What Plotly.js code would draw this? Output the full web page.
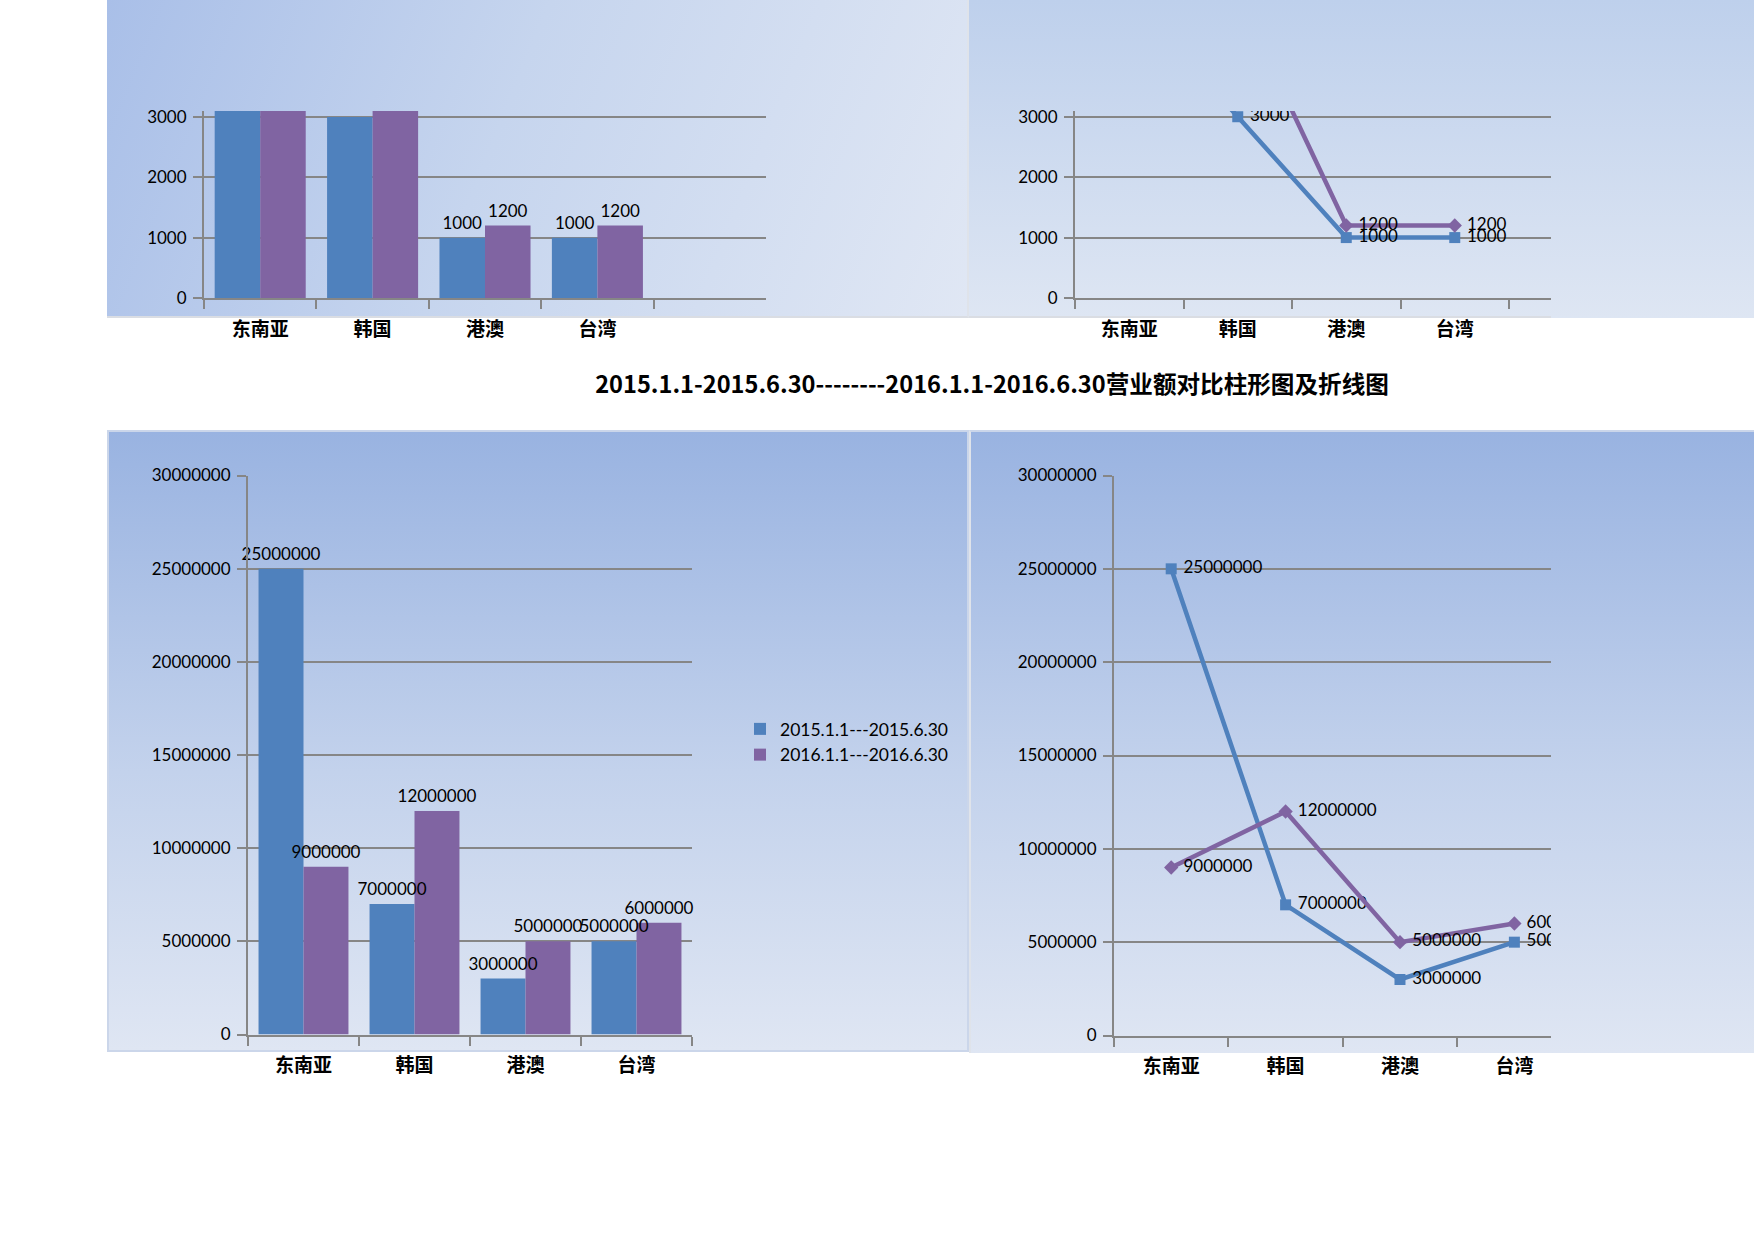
<!DOCTYPE html>
<html>
<head>
<meta charset="utf-8">
<script src="https://cdn.plot.ly/plotly-3.0.1.min.js"></script>
<style>
  body { margin: 0; background: #fff; }
  .panel { position: absolute; box-sizing: border-box; }
  #p1 { left: 107px; top: 0; width: 862px; height: 318px;
        background: linear-gradient(112deg, #a9bfe8 0%, #c6d5ee 45%, #e0e7f4 100%);
        border-bottom: 2px solid #dadde3; border-right: 2px solid #dfe3ea; }
  #p2 { left: 969px; top: 0; width: 785px; height: 318px;
        background: linear-gradient(180deg, #bed0ec 0%, #dee6f3 100%); }
  #p2line { left: 969px; top: 316px; width: 582px; height: 2px; background: #dadde3; }
  #p3 { left: 107px; top: 430px; width: 862px; height: 622px;
        background: linear-gradient(180deg, #99b3e1 0%, #c3d2ec 55%, #dfe6f3 100%);
        border: 2px solid #cbd6ea; }
  #p4 { left: 969px; top: 430px; width: 785px; height: 623px;
        background: linear-gradient(180deg, #99b3e1 0%, #c3d2ec 55%, #dfe6f3 100%);
        border-left: 2px solid #dfe3ea; border-top: 2px solid #cbd6ea; }
  #chart { position: absolute; left: 0; top: 0; width: 1754px; height: 1240px; }
</style>
</head>
<body>
<div class="panel" id="p1"></div>
<div class="panel" id="p2"></div>
<div class="panel" id="p2line"></div>
<div class="panel" id="p3"></div>
<div class="panel" id="p4"></div>
<div id="chart"></div>
<script>
// data
var regions = ['东南亚', '韩国', '港澳', '台湾'];
var periods = ['2015.1.1---2015.6.30', '2016.1.1---2016.6.30'];
// upper pair of charts (东南亚 values are cut off in the picture, estimated)
var topA = [5000, 3000, 1000, 1000];
var topB = [4000, 5000, 1200, 1200];
// revenue, lower pair of charts
var revA = [25000000, 7000000, 3000000, 5000000];
var revB = [9000000, 12000000, 5000000, 6000000];
var topTicks = [0, 1000, 2000, 3000];
var revTicks = [0, 5000000, 10000000, 15000000, 20000000, 25000000, 30000000];
var titleText = '2015.1.1-2015.6.30--------2016.1.1-2016.6.30营业额对比柱形图及折线图';

var W = 1754, H = 1240;
var BLUE = '#4f81bd', PURPLE = '#8064a2', GREY = '#868686';
var numFont = {family: 'Lato, Carlito, sans-serif', size: 17, color: '#000'};
var catFont = {family: '"Noto Sans CJK SC", sans-serif', size: 19, color: '#000', weight: 'bold'};

function fx(a, b){ return [a / W, b / W]; }
function fy(top, bottom){ return [1 - bottom / H, 1 - top / H]; }

// labels only for values whose label still lies inside the cut-off chart
function labels(vals, limit, pre){
    return vals.map(function(v){
        return (limit === undefined || v < limit) ? (pre || '') + String(v) : '';
    });
}

function catAxis(dom, range, anchor){
    return {
        domain: dom, range: range, anchor: anchor, type: 'category', categoryorder: 'array', categoryarray: regions,
        showline: true, linecolor: GREY, linewidth: 2, showgrid: false, zeroline: false,
        ticks: 'outside', tickson: 'boundaries', ticklen: 9, tickwidth: 2, tickcolor: GREY,
        tickfont: catFont, ticklabelstandoff: 13, fixedrange: true
    };
}
function valAxis(dom, range, vals, anchor){
    return {
        domain: dom, range: range, anchor: anchor, tickvals: vals, tickformat: 'd',
        showline: true, linecolor: GREY, linewidth: 2,
        showgrid: true, gridcolor: GREY, gridwidth: 2, zeroline: false,
        ticks: 'outside', ticklen: 9, tickwidth: 2, tickcolor: GREY,
        tickfont: numFont, ticklabelstandoff: 3, fixedrange: true
    };
}

function barTrace(vals, name, color, grp, xa, ya, legend){
    return {
        type: 'bar', x: regions, y: vals, name: name, xaxis: xa, yaxis: ya,
        offsetgroup: grp, marker: {color: color}, showlegend: legend
    };
}
// bar value labels as a separate text layer so they sit above every bar
function barLabels(vals, grp, xa, ya, limit){
    return {
        type: 'scatter', mode: 'markers+text', x: regions, y: vals, xaxis: xa, yaxis: ya,
        offsetgroup: grp, text: labels(vals, limit), textposition: 'top center',
        marker: {size: 6, opacity: 0},
        textfont: numFont, cliponaxis: false, showlegend: false, hoverinfo: 'skip'
    };
}
function lineTrace(vals, name, color, symbol, xa, ya, limit){
    return {
        type: 'scatter', mode: 'lines+markers+text', x: regions, y: vals, name: name,
        xaxis: xa, yaxis: ya, offsetgroup: 'line', line: {color: color, width: 4.5},
        marker: {color: color, symbol: symbol, size: 11},
        text: labels(vals, limit, '\u00a0'), textposition: 'middle right', textfont: numFont,
        cliponaxis: true, showlegend: false
    };
}

var data = [
    barTrace(topA, periods[0], BLUE, 'a', 'x', 'y', false),
    barTrace(topB, periods[1], PURPLE, 'b', 'x', 'y', false),
    barLabels(topA, 'a', 'x', 'y', 3000),
    barLabels(topB, 'b', 'x', 'y', 3000),
    lineTrace(topA, periods[0], BLUE, 'square', 'x2', 'y2', 3095),
    lineTrace(topB, periods[1], PURPLE, 'diamond', 'x2', 'y2', 3095),
    barTrace(revA, periods[0], BLUE, 'a', 'x3', 'y3', true),
    barTrace(revB, periods[1], PURPLE, 'b', 'x3', 'y3', true),
    barLabels(revA, 'a', 'x3', 'y3'),
    barLabels(revB, 'b', 'x3', 'y3'),
    lineTrace(revA, periods[0], BLUE, 'square', 'x4', 'y4'),
    lineTrace(revB, periods[1], PURPLE, 'diamond', 'x4', 'y4')
];

var layout = {
    width: W, height: H,
    margin: {l: 0, r: 0, t: 0, b: 0},
    paper_bgcolor: 'rgba(0,0,0,0)', plot_bgcolor: 'rgba(0,0,0,0)',
    font: numFont,
    barmode: 'group', bargap: 0.19, bargroupgap: 0,
    scattermode: 'group', scattergap: 0.19,
    title: {text: titleText, x: 992 / W, xanchor: 'center', y: 1 - 385 / H, yanchor: 'middle',
            font: {family: '"Noto Sans CJK SC", sans-serif', size: 23.6, color: '#000', weight: 'bold'}},
    xaxis: catAxis(fx(204, 766), [-0.5, 4.5], 'y'),
    yaxis: valAxis(fy(111, 298), [0, 3100], topTicks, 'x'),
    xaxis2: catAxis(fx(1075, 1551), [-0.5, 3.887], 'y2'),
    yaxis2: valAxis(fy(111, 298), [0, 3095], topTicks, 'x2'),
    xaxis3: catAxis(fx(248, 692), [-0.5, 3.5], 'y3'),
    yaxis3: valAxis(fy(475.5, 1034.5), [0, 30000000], revTicks, 'x3'),
    xaxis4: catAxis(fx(1114, 1551), [-0.5, 3.32], 'y4'),
    yaxis4: valAxis(fy(475.5, 1035.5), [0, 30000000], revTicks, 'x4'),
    showlegend: true,
    legend: {x: 740 / W, xanchor: 'left', y: 1 - 711 / H, yanchor: 'top',
             bgcolor: 'rgba(0,0,0,0)', font: {family: 'Lato, Carlito, sans-serif', size: 17.5, color: '#000'},
             traceorder: 'normal'}
};

Plotly.newPlot('chart', data, layout, {displayModeBar: false, staticPlot: true});
</script>
</body>
</html>
